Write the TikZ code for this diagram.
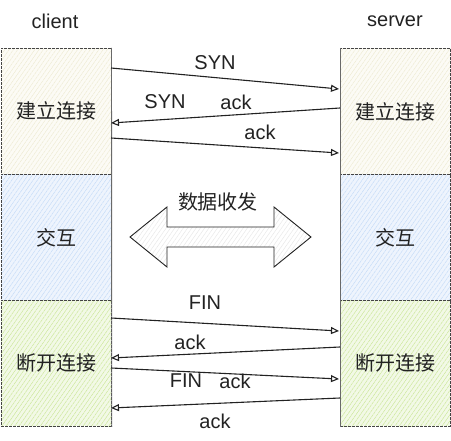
\documentclass[tikz,border=0pt]{standalone}
\usepackage{fontspec}
\setmainfont{Liberation Sans}
\newfontfamily\cjk{Noto Sans CJK SC}
\usetikzlibrary{arrows.meta,patterns.meta}
\definecolor{txt}{HTML}{222222}
\definecolor{edge}{HTML}{444444}
\definecolor{ybg}{HTML}{FCFBF5}
\definecolor{yhatch}{HTML}{EEEBD3}
\definecolor{bbg}{HTML}{EEF4FD}
\definecolor{bhatch}{HTML}{C6DCF8}
\definecolor{gbg}{HTML}{F2F9E6}
\definecolor{ghatch}{HTML}{CDE79C}
\definecolor{ahatch}{HTML}{E6E6E6}
\tikzset{
  phase/.style={draw=edge, dash pattern=on 3pt off 1pt, line width=0.8pt,
    minimum width=110pt, minimum height=126pt, inner sep=0pt, anchor=north west,
    font=\fontsize{20}{24}\selectfont\cjk, text=txt},
  ybox/.style={phase, preaction={fill=ybg}, pattern={Lines[angle=55,distance=3.5pt,line width=0.5pt]}, pattern color=yhatch},
  bbox/.style={phase, preaction={fill=bbg}, pattern={Lines[angle=55,distance=3.5pt,line width=0.5pt]}, pattern color=bhatch},
  gbox/.style={phase, preaction={fill=gbg}, pattern={Lines[angle=55,distance=3.5pt,line width=0.5pt]}, pattern color=ghatch},
  lbl/.style={font=\fontsize{20}{24}\selectfont, text=txt, inner sep=0pt},
  msg/.style={draw=txt, line width=1.1pt, -{Triangle[open,length=8pt,width=7pt]}},
  life/.style={draw=edge!80, line width=0.9pt}
}
\begin{document}
\begin{tikzpicture}[x=1pt,y=-1pt]
\useasboundingbox (0,0) rectangle (451,441);
% titles
\node[lbl] (client) at (55,21) {client};
\node[lbl] (server) at (395,21) {server};
% phase boxes
\node[ybox] (c1) at (1,48) {建立连接};
\node[bbox] (c2) at (1,174) {交互};
\node[gbox] (c3) at (1,300) {断开连接};
\node[ybox] (s1) at (340,48) {建立连接};
\node[bbox] (s2) at (340,174) {交互};
\node[gbox] (s3) at (340,300) {断开连接};
% lifelines on inner edges
\draw[life] (c1.north east) -- (c3.south east);
\draw[life] (s1.north west) -- (s3.south west);
% message endpoints
\coordinate (a1) at (111,68);   \coordinate (b1) at (339,89);
\coordinate (b2) at (340,108);  \coordinate (a2) at (111,123);
\coordinate (a3) at (111,138);  \coordinate (b3) at (339,153);
\coordinate (a4) at (111,318);  \coordinate (b4) at (339,331);
\coordinate (b5) at (340,347);  \coordinate (a5) at (111,358);
\coordinate (a6) at (111,368);  \coordinate (b6) at (339,379);
\coordinate (b7) at (340,398);  \coordinate (a7) at (111,408);
\draw[msg] (a1) -- (b1);
\draw[msg] (b2) -- (a2);
\draw[msg] (a3) -- (b3);
\draw[msg] (a4) -- (b4);
\draw[msg] (b5) -- (a5);
\draw[msg] (a6) -- (b6);
\draw[msg] (b7) -- (a7);
% message labels
\node[lbl] (l1) at (215,63) {SYN};
\node[lbl] (l2a) at (165,102) {SYN};
\node[lbl] (l2b) at (236,102) {ack};
\node[lbl] (l3) at (260,132) {ack};
\node[lbl] (l4) at (205,303) {FIN};
\node[lbl] (l5) at (190,342) {ack};
\node[lbl] (l6a) at (186,381) {FIN};
\node[lbl] (l6b) at (235,381) {ack};
\node[lbl] (l7) at (215,421) {ack};
% data exchange double arrow
\draw[draw=txt, line width=0.9pt, preaction={fill=white},
  pattern={Lines[angle=55,distance=3.5pt,line width=0.4pt]}, pattern color=ahatch]
  (130,237) -- (167,207) -- (167,227) -- (274,227) -- (274,207) -- (311,237)
  -- (274,267) -- (274,247) -- (167,247) -- (167,267) -- cycle;
\node[lbl, font=\fontsize{20}{24}\selectfont\cjk] (data) at (218,202) {数据收发};
\end{tikzpicture}
\end{document}
